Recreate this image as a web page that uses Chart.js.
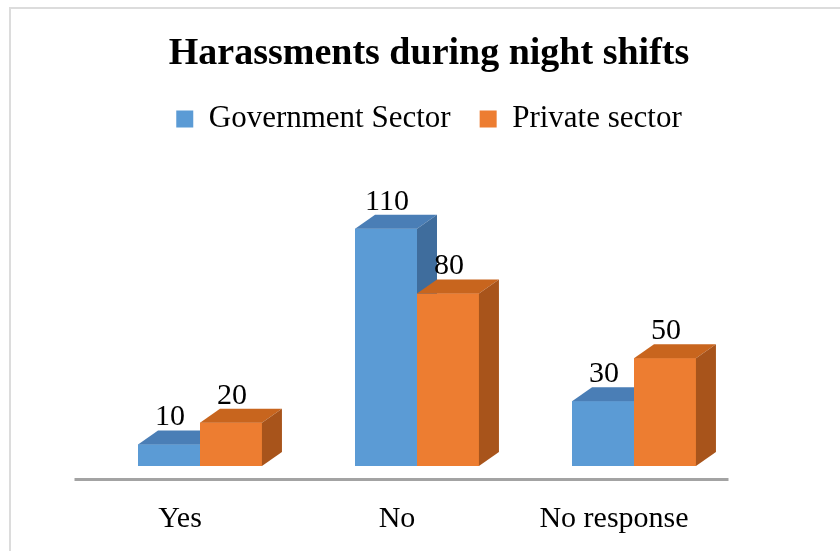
<!DOCTYPE html>
<html lang="en">
<head>
  <meta charset="UTF-8">
  <title>Harassments during night shifts</title>
  <script src="https://cdn.jsdelivr.net/npm/chart.js"></script>
  <style>
    body { margin: 0; background: #fff; }
    #chartContainer { width: 840px; height: 551px; }
  </style>
</head>
<body>
  <div id="chartContainer">
    <canvas id="barChart" width="840" height="551"></canvas>
  </div>

  <script>
    // data
    const categories = ['Yes', 'No', 'No response'];
    const governmentSector = [10, 110, 30];
    const privateSector = [20, 80, 50];
    const seriesNames = ['Government Sector', 'Private sector'];

    // face colours: front, top, side
    const frontColors = ['#5B9BD5', '#ED7D31'];
    const topColors = ['#4A7EB6', '#C8651E'];
    const sideColors = ['#3F6D9D', '#A8541B'];
    const DEPTH_X = 20, DEPTH_Y = -14;
    const serif = 'Liberation Serif, Times New Roman, serif';

    // draws the fake 3D faces, the floor line and the value labels
    const bars3d = {
      id: 'bars3d',
      beforeDraw(chart) {
        const ctx = chart.ctx;
        ctx.save();
        ctx.fillStyle = '#dcdcdc';
        ctx.fillRect(9, 7, chart.width - 9, 2);
        ctx.fillRect(9, 7, 2, chart.height - 7);
        ctx.restore();
      },
      afterDatasetsDraw(chart) {
        const ctx = chart.ctx;
        const area = chart.chartArea;
        const metas = chart.data.datasets.map((d, i) => chart.getDatasetMeta(i));

        ctx.save();
        // floor edge
        ctx.strokeStyle = '#a3a3a3';
        ctx.lineWidth = 3;
        ctx.beginPath();
        ctx.moveTo(area.left - 17, area.bottom + 13.5);
        ctx.lineTo(area.right - 14, area.bottom + 13.5);
        ctx.stroke();

        categories.forEach((cat, i) => {
          metas.forEach((meta, d) => {
            const bar = meta.data[i];
            const p = bar.getProps(['x', 'y', 'base', 'width'], true);
            const l = p.x - p.width / 2, r = p.x + p.width / 2;
            bar.draw(ctx);
            // top face
            ctx.fillStyle = topColors[d];
            ctx.beginPath();
            ctx.moveTo(l, p.y);
            ctx.lineTo(r, p.y);
            ctx.lineTo(r + DEPTH_X, p.y + DEPTH_Y);
            ctx.lineTo(l + DEPTH_X, p.y + DEPTH_Y);
            ctx.closePath();
            ctx.fill();
            // side face
            ctx.fillStyle = sideColors[d];
            ctx.beginPath();
            ctx.moveTo(r, p.y);
            ctx.lineTo(r + DEPTH_X, p.y + DEPTH_Y);
            ctx.lineTo(r + DEPTH_X, p.base + DEPTH_Y);
            ctx.lineTo(r, p.base);
            ctx.closePath();
            ctx.fill();
          });
        });

        // value labels
        ctx.fillStyle = '#000';
        ctx.font = '30px ' + serif;
        ctx.textAlign = 'center';
        ctx.textBaseline = 'alphabetic';
        metas.forEach((meta, d) => {
          const values = chart.data.datasets[d].data;
          meta.data.forEach((bar, i) => {
            ctx.fillText(String(values[i]), bar.x + 1, bar.y - 19);
          });
        });
        ctx.restore();
      }
    };

    const ctx = document.getElementById('barChart').getContext('2d');
    const chart = new Chart(ctx, {
      type: 'bar',
      data: {
        labels: categories,
        datasets: [
          { label: seriesNames[0], data: governmentSector, backgroundColor: frontColors[0], borderWidth: 0 },
          { label: seriesNames[1], data: privateSector, backgroundColor: frontColors[1], borderWidth: 0 }
        ]
      },
      options: {
        responsive: false,
        animation: false,
        events: [],
        categoryPercentage: 0.571,
        barPercentage: 1.0,
        layout: { padding: { left: 18, right: 0, top: 0, bottom: 0 } },
        scales: {
          x: {
            grid: { display: false },
            border: { display: false },
            ticks: {
              color: '#000',
              font: { family: serif, size: 30 },
              padding: 27,
              labelOffset: -20
            },
            afterFit(scale) { scale.height = 85; }
          },
          y: {
            min: 0,
            max: 149,
            grid: { display: false },
            border: { display: false },
            ticks: { display: false },
            afterFit(scale) { scale.width = 73.5; }
          },
          yRight: {
            position: 'right',
            grid: { display: false },
            border: { display: false },
            ticks: { display: false },
            afterFit(scale) { scale.width = 97.5; }
          }
        },
        plugins: {
          title: {
            display: true,
            text: 'Harassments during night shifts',
            color: '#000',
            font: { family: serif, size: 38, weight: 'bold' },
            padding: { top: 31, bottom: -2 }
          },
          legend: {
            labels: {
              color: '#000',
              font: { family: serif, size: 31 },
              boxWidth: 17,
              boxHeight: 17,
              padding: 29
            }
          },
          tooltip: { enabled: false }
        }
      },
      plugins: [bars3d]
    });
  </script>
</body>
</html>
